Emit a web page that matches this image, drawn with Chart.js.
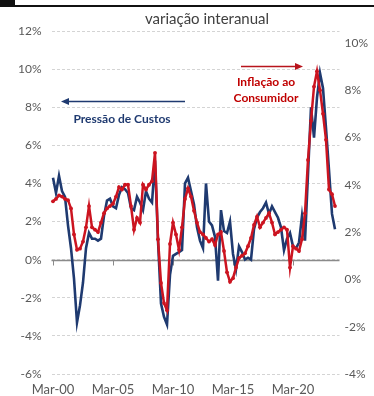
<!DOCTYPE html>
<html>
<head>
<meta charset="utf-8">
<script src="https://cdn.jsdelivr.net/npm/chart.js@4/dist/chart.umd.min.js"></script>
<style>
  html, body { margin: 0; padding: 0; background: #ffffff; }
  canvas { display: block; }
</style>
</head>
<body>
<canvas id="grafico" width="374" height="396"></canvas>
<script>
// Quarterly periods, Mar-00 to Dec-23
const trimestres = ['Mar', 'Jun', 'Sep', 'Dec'];
const anos = ['00','01','02','03','04','05','06','07','08','09','10','11',
              '12','13','14','15','16','17','18','19','20','21','22','23'];
const periodos = [];
anos.forEach(a => trimestres.forEach(m => periodos.push(m + '-' + a)));

// Cost pressure, y/y % (left axis)
const pressaoCustos = [
  4.3, 3.5, 4.4, 3.6, 3.3, 1.8, 0.6, -1.0, -3.3, -2.4,
  -1.2, 0.6, 1.4, 1.1, 1.1, 1.0, 1.1, 2.3, 3.1, 3.2,
  2.8, 2.7, 3.4, 3.8, 3.7, 3.5, 2.7, 2.6, 3.3, 3.0,
  2.6, 3.6, 3.2, 3.0, 5.2, 1.0, -2.3, -3.0, -3.4, -0.8,
  0.2, 0.3, 0.4, 0.5, 4.0, 4.3, 3.6, 2.9, 1.7, 1.0,
  0.6, 4.0, 2.0, 1.8, 1.2, -1.1, 2.6, 1.5, 1.4, 2.0,
  0.3, -0.5, 0.7, 0.4, 0.0, 0.1, 0.0, 1.6, 2.2, 2.5,
  2.7, 3.0, 2.4, 2.8, 2.5, 2.2, 1.7, 0.5, 1.1, 1.4,
  0.7, 0.6, 0.9, 2.3, 1.0, 4.5, 8.0, 6.4, 8.5, 9.8,
  9.0, 6.9, 4.7, 2.4, 1.6
];

// Consumer inflation, y/y % (right axis)
const inflacaoConsumidor = [
  3.3, 3.4, 3.55, 3.5, 3.4, 3.35, 3.0, 1.9, 1.25, 1.3,
  1.6, 2.2, 3.1, 2.2, 2.1, 2.0, 2.4, 2.8, 3.0, 3.1,
  3.2, 3.5, 3.9, 3.8, 4.0, 4.0, 3.1, 2.1, 2.6, 2.4,
  4.0, 3.8, 4.0, 4.15, 5.35, 1.7, -0.15, -1.0, -1.3, 1.5,
  2.4, 1.9, 1.25, 2.2, 3.4, 3.85, 3.5, 2.9, 2.4, 2.0,
  1.9, 1.75, 1.6, 1.7, 1.45, 1.9, 2.0, 1.2, 0.3, -0.1,
  0.05, 0.5, 0.9, 1.0, 1.1, 1.4, 1.75, 2.3, 2.65, 2.2,
  2.4, 2.6, 2.8, 2.4, 1.9, 2.0, 2.1, 2.2, 2.1, 0.5,
  1.4, 1.3, 1.2, 1.7, 2.8, 5.05, 6.7, 8.15, 8.8, 8.0,
  7.0, 5.9, 3.8, 3.6, 3.1
];

// Axis ranges and tick values
const eixoEsq = { min: -6, max: 12, passo: 2 };
const eixoDir = { min: -4, max: 10.5 };
const ticksDir = [-4, -2, 0, 2, 4, 6, 8, 10];
const passoRotulosX = 20;   // one label every five years

const AZUL = '#1f3a70';
const VERMELHO = '#cc1420';
const CINZA_TXT = '#595959';
const FONTE = 'Lato, "Open Sans", "DejaVu Sans", sans-serif';

const pct = v => v + '%';

const decoracao = {
  id: 'decoracao',
  beforeDatasetsDraw(chart) {
    const { ctx, chartArea, scales } = chart;
    const y0 = Math.round(scales.yL.getPixelForValue(0)) + 0.5;
    ctx.save();
    ctx.strokeStyle = '#8a8a8a';
    ctx.lineWidth = 1.5;
    ctx.beginPath();
    ctx.moveTo(chartArea.left, y0);
    ctx.lineTo(chartArea.right, y0);
    ctx.stroke();
    ctx.lineWidth = 1;
    periodos.forEach((p, i) => {
      if (i % passoRotulosX === 0) {
        const x = Math.round(scales.x.getPixelForValue(i)) + 0.5;
        ctx.beginPath();
        ctx.moveTo(x, y0);
        ctx.lineTo(x, y0 + 5);
        ctx.stroke();
      }
    });
    ctx.restore();
  },
  afterDraw(chart) {
    const { ctx } = chart;
    ctx.save();
    // top rule
    ctx.fillStyle = '#111111';
    ctx.fillRect(0, 0, 15, 6);
    ctx.fillRect(0, 5, 374, 2);

    // subtitle
    ctx.fillStyle = '#404040';
    ctx.font = '15px ' + FONTE;
    ctx.textAlign = 'center';
    ctx.textBaseline = 'middle';
    ctx.fillText('variação interanual', 207, 19);

    // cost pressure label and arrow (points to left axis)
    ctx.strokeStyle = AZUL;
    ctx.fillStyle = AZUL;
    ctx.lineWidth = 1.5;
    ctx.beginPath();
    ctx.moveTo(185, 101.5);
    ctx.lineTo(68, 101.5);
    ctx.stroke();
    ctx.beginPath();
    ctx.moveTo(61, 101.5);
    ctx.lineTo(69, 98);
    ctx.lineTo(69, 105);
    ctx.closePath();
    ctx.fill();
    ctx.font = 'bold 12px ' + FONTE;
    ctx.fillText('Pressão de Custos', 122, 119);

    // consumer inflation label and arrow (points to right axis)
    ctx.strokeStyle = '#b8141c';
    ctx.fillStyle = '#b8141c';
    ctx.beginPath();
    ctx.moveTo(241, 66.5);
    ctx.lineTo(296, 66.5);
    ctx.stroke();
    ctx.beginPath();
    ctx.moveTo(303, 66.5);
    ctx.lineTo(295, 63);
    ctx.lineTo(295, 70);
    ctx.closePath();
    ctx.fill();
    ctx.fillStyle = '#c00000';
    ctx.fillText('Inflação ao', 266, 82);
    ctx.fillText('Consumidor', 266, 98);
    ctx.restore();
  }
};

new Chart(document.getElementById('grafico'), {
  type: 'line',
  data: {
    labels: periodos,
    datasets: [
      {
        label: 'Inflação ao Consumidor',
        data: inflacaoConsumidor,
        yAxisID: 'yR',
        borderColor: VERMELHO,
        backgroundColor: VERMELHO,
        borderWidth: 2.5,
        pointRadius: 1.9,
        pointBorderWidth: 0,
        pointBackgroundColor: VERMELHO,
        tension: 0,
        order: 0
      },
      {
        label: 'Pressão de Custos',
        data: pressaoCustos,
        yAxisID: 'yL',
        borderColor: AZUL,
        borderWidth: 2.6,
        pointRadius: 0,
        tension: 0,
        order: 1
      }
    ]
  },
  options: {
    responsive: false,
    animation: false,
    devicePixelRatio: 1,
    layout: { padding: { top: 31, left: 0, right: 0, bottom: 0 } },
    plugins: { legend: { display: false }, tooltip: { enabled: false } },
    scales: {
      x: {
        type: 'category',
        offset: true,
        grid: { display: false, drawTicks: false },
        border: { display: false },
        ticks: {
          autoSkip: false,
          maxRotation: 0,
          padding: 8,
          color: CINZA_TXT,
          font: { family: FONTE, size: 13 },
          callback(v, i) { return i % passoRotulosX === 0 ? this.getLabelForValue(v) : null; }
        },
        afterFit(s) { s.height = 22; }
      },
      yL: {
        position: 'left',
        min: eixoEsq.min,
        max: eixoEsq.max,
        grid: { color: '#d4d4d4', lineWidth: 1, drawTicks: false },
        border: { display: false, dash: [3, 2] },
        ticks: {
          stepSize: eixoEsq.passo,
          padding: 10,
          color: CINZA_TXT,
          font: { family: FONTE, size: 12 },
          callback: pct
        },
        afterFit(s) { s.width = 51.5; }
      },
      yR: {
        position: 'right',
        min: eixoDir.min,
        max: eixoDir.max,
        grid: { display: false, drawTicks: false },
        border: { display: false },
        ticks: {
          padding: 5,
          color: CINZA_TXT,
          font: { family: FONTE, size: 12 },
          callback: pct
        },
        afterBuildTicks(s) { s.ticks = ticksDir.map(v => ({ value: v })); },
        afterFit(s) { s.width = 34.5; }
      }
    }
  },
  plugins: [decoracao]
});
</script>
</body>
</html>
